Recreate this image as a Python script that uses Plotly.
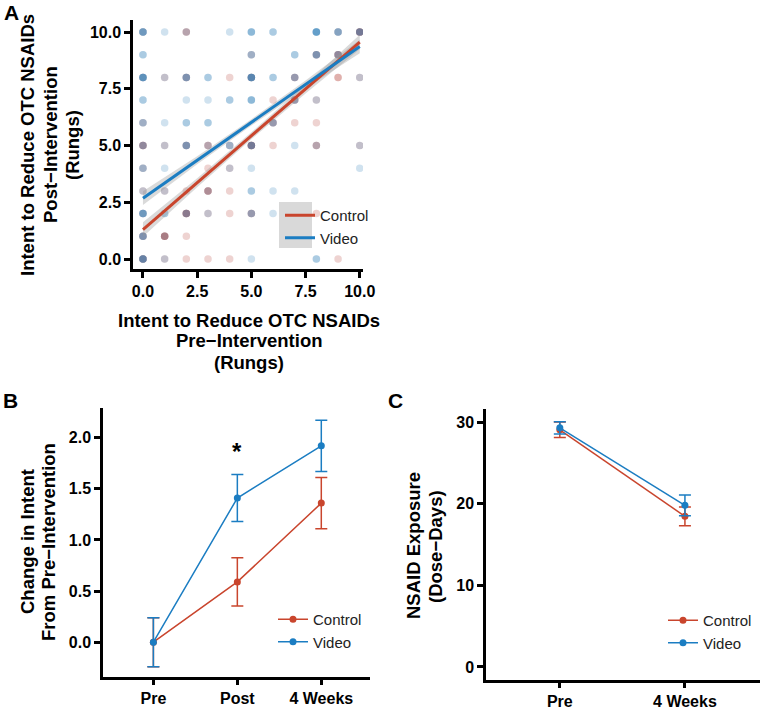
import plotly.graph_objects as go

# ---------------- data ----------------
# Panel A: grid cells (pre, post) with number of observations per group
cell_x = [0, 1, 2, 4, 5, 6, 8, 9, 10,
          0, 5, 7, 8, 9,
          0, 1, 2, 3, 4, 5, 6, 7, 9, 10,
          0, 2, 3, 4, 5, 6, 7, 8,
          0, 1, 2, 3, 6, 7, 8,
          0, 1, 2, 3, 4, 5, 6, 7, 8, 10,
          0, 1, 3, 4, 5, 10,
          0, 1, 2, 3, 4, 5, 6, 7,
          0, 1, 2, 3, 4, 5, 6, 7, 8,
          0, 1, 2,
          0, 1, 2, 3, 4, 5, 8, 9]
cell_y = [10] * 9 + [9] * 5 + [8] * 10 + [7] * 8 + [6] * 7 + [5] * 10 + [4] * 6 + [3] * 8 + [2] * 9 + [1] * 3 + [0] * 8
n_control = [1, 0, 2, 0, 0, 0, 0, 1, 4,
             0, 1, 0, 2, 3,
             1, 1, 2, 0, 1, 2, 0, 2, 2, 1,
             0, 0, 0, 0, 0, 1, 2, 1,
             1, 0, 0, 0, 2, 1, 1,
             3, 1, 2, 2, 1, 4, 1, 0, 2, 1,
             1, 0, 1, 1, 0, 0,
             1, 1, 1, 3, 1, 0, 0, 0,
             1, 0, 4, 1, 1, 2, 0, 1, 1,
             2, 4, 1,
             3, 1, 1, 1, 1, 0, 0, 1]
n_video = [4, 1, 1, 1, 3, 2, 5, 3, 3,
           2, 2, 2, 3, 2,
           5, 1, 3, 2, 0, 5, 2, 2, 0, 1,
           2, 1, 1, 2, 3, 0, 2, 1,
           2, 1, 2, 2, 2, 0, 0,
           2, 1, 3, 1, 2, 3, 0, 1, 1, 1,
           2, 1, 0, 1, 1, 1,
           1, 1, 0, 1, 0, 2, 1, 1,
           4, 2, 2, 1, 0, 2, 1, 0, 0,
           3, 1, 0,
           4, 1, 0, 0, 0, 1, 2, 0]

# Panel A: fitted regression lines and confidence half-widths
fit_x = [0, 2.5, 5, 7.5, 10]
control_fit = [1.30, 3.36, 5.43, 7.49, 9.56]
video_fit = [2.68, 4.35, 6.02, 7.69, 9.36]
control_ci = [0.32, 0.20, 0.15, 0.20, 0.32]
video_ci = [0.30, 0.18, 0.14, 0.18, 0.30]
a_ticks = [0, 2.5, 5, 7.5, 10]
a_ticktext = ["0.0", "2.5", "5.0", "7.5", "10.0"]

# Panel B: change in intent
b_labels = ["Pre", "Post", "4 Weeks"]
b_control = [0.0, 0.59, 1.36]
b_control_err = [0.24, 0.235, 0.25]
b_video = [0.0, 1.41, 1.92]
b_video_err = [0.24, 0.23, 0.25]
b_ticks = [0, 0.5, 1.0, 1.5, 2.0]
b_ticktext = ["0.0", "0.5", "1.0", "1.5", "2.0"]
b_star_y = 1.86

# Panel C: NSAID exposure
c_labels = ["Pre", "4 Weeks"]
c_control = [29.05, 18.45]
c_control_err = [0.95, 1.15]
c_video = [29.3, 19.8]
c_video_err = [0.75, 1.27]
c_ticks = [0, 10, 20, 30]

# ---------------- style ----------------
W, H = 764, 709
F = "Liberation Sans"
RED = "#C9452D"
BLUE = "#1B7DC2"
PT_RED = "#B02E28"
PT_BLUE = "#1F78B4"


def px(xp):
    return xp / W


def py(yp):
    return 1 - yp / H


fig = go.Figure()

# ---- Panel A scatter (stacked translucent dots) ----
for name, counts, col in [("Control", n_control, PT_RED), ("Video", n_video, PT_BLUE)]:
    xs, ys = [], []
    for x, y, n in zip(cell_x, cell_y, counts):
        xs += [x] * n
        ys += [y] * n
    fig.add_trace(go.Scatter(x=xs, y=ys, mode="markers", showlegend=False,
                             marker=dict(size=7.5, color=col, opacity=0.21, line=dict(width=0)),
                             xaxis="x", yaxis="y", hoverinfo="skip"))

# confidence bands
for fit, ci in [(control_fit, control_ci), (video_fit, video_ci)]:
    upper = [f + c for f, c in zip(fit, ci)]
    lower = [f - c for f, c in zip(fit, ci)]
    fig.add_trace(go.Scatter(x=fit_x + fit_x[::-1], y=upper + lower[::-1], fill="toself",
                             fillcolor="rgba(150,150,150,0.35)", line=dict(width=0),
                             mode="lines", showlegend=False, xaxis="x", yaxis="y", hoverinfo="skip"))

# fitted lines
fig.add_trace(go.Scatter(x=fit_x, y=control_fit, mode="lines", name="Control",
                         line=dict(color=RED, width=3), xaxis="x", yaxis="y", legend="legend"))
fig.add_trace(go.Scatter(x=fit_x, y=video_fit, mode="lines", name="Video",
                         line=dict(color=BLUE, width=3), xaxis="x", yaxis="y", legend="legend"))

# ---- Panel B ----
bx = list(range(len(b_labels)))
fig.add_trace(go.Scatter(x=bx, y=b_control, mode="lines+markers", name="Control",
                         line=dict(color=RED, width=1.5), marker=dict(size=7, color=RED),
                         error_y=dict(type="data", array=b_control_err, color=RED, thickness=1.5, width=6),
                         xaxis="x2", yaxis="y2", legend="legend2"))
fig.add_trace(go.Scatter(x=bx, y=b_video, mode="lines+markers", name="Video",
                         line=dict(color=BLUE, width=1.5), marker=dict(size=7, color=BLUE),
                         error_y=dict(type="data", array=b_video_err, color=BLUE, thickness=1.5, width=6),
                         xaxis="x2", yaxis="y2", legend="legend2"))

# ---- Panel C ----
cx = list(range(len(c_labels)))
fig.add_trace(go.Scatter(x=cx, y=c_control, mode="lines+markers", name="Control",
                         line=dict(color=RED, width=1.5), marker=dict(size=7, color=RED),
                         error_y=dict(type="data", array=c_control_err, color=RED, thickness=1.5, width=6),
                         xaxis="x3", yaxis="y3", legend="legend3"))
fig.add_trace(go.Scatter(x=cx, y=c_video, mode="lines+markers", name="Video",
                         line=dict(color=BLUE, width=1.5), marker=dict(size=7, color=BLUE),
                         error_y=dict(type="data", array=c_video_err, color=BLUE, thickness=1.5, width=6),
                         xaxis="x3", yaxis="y3", legend="legend3"))

ax = dict(showline=True, linecolor="black", linewidth=2.5, ticks="outside", ticklen=6,
          tickwidth=2.5, tickcolor="black", showgrid=False, zeroline=False,
          tickfont=dict(family=F, size=16, color="black", weight="bold"), fixedrange=True,
          automargin=False)

leg = dict(xanchor="left", yanchor="top", bgcolor="rgba(0,0,0,0)",
           font=dict(family=F, size=15, color="#222"), itemwidth=30, tracegroupgap=0)

fig.update_layout(
    width=W, height=H, margin=dict(l=0, r=0, t=0, b=0),
    template="none", paper_bgcolor="white", plot_bgcolor="white",
    showlegend=True,
    xaxis=dict(ax, domain=[px(133), px(363)], range=[-0.46, 10.15], anchor="y",
               tickvals=a_ticks, ticktext=a_ticktext),
    yaxis=dict(ax, domain=[py(269), py(20)], range=[-0.44, 10.53], anchor="x",
               tickvals=a_ticks, ticktext=a_ticktext),
    xaxis2=dict(ax, domain=[px(103), px(370)], range=[-0.6, 2.58], anchor="y2",
                tickvals=bx, ticktext=b_labels, ticklen=5),
    yaxis2=dict(ax, domain=[py(677), py(408)], range=[-0.34, 2.29], anchor="x2",
                tickvals=b_ticks, ticktext=b_ticktext),
    xaxis3=dict(ax, domain=[px(486), px(760)], range=[-0.59, 1.6], anchor="y3",
                tickvals=cx, ticktext=c_labels, ticklen=5),
    yaxis3=dict(ax, domain=[py(680), py(409)], range=[-1.6, 31.6], anchor="x3",
                tickvals=c_ticks),
    legend=dict(leg, x=px(280), y=py(199)),
    legend2=dict(leg, x=px(273), y=py(603)),
    legend3=dict(leg, x=px(663), y=py(604)),
)

# grey key background of panel A legend
fig.add_shape(type="rect", xref="paper", yref="paper", x0=px(279), x1=px(312), y0=py(248), y1=py(202),
              fillcolor="#d9d9d9", line=dict(width=0), layer="above")

title_font = dict(family=F, size=18.5, color="black", weight="bold")
# axis titles, one annotation per line (tight line spacing as in the reference)
title_lines = [
    ("Intent to Reduce OTC NSAIDs", 27, 145, -90),
    ("Post\u2212Intervention", 50, 145, -90),
    ("(Rungs)", 72, 145, -90),
    ("Intent to Reduce OTC NSAIDs", 249, 320, 0),
    ("Pre\u2212Intervention", 249, 341, 0),
    ("(Rungs)", 249, 362, 0),
    ("Change in Intent", 27, 542, -90),
    ("From Pre\u2212Intervention", 48, 542, -90),
    ("NSAID Exposure", 413, 546, -90),
    ("(Dose\u2212Days)", 435, 546, -90),
]
for txt, xp, yp, ang in title_lines:
    fig.add_annotation(text=txt, xref="paper", yref="paper", x=px(xp), y=py(yp), showarrow=False,
                       font=title_font, xanchor="center", yanchor="middle", textangle=ang)

for lab, xp, yp in [("A", 11, 13), ("B", 10, 400), ("C", 395, 400)]:
    fig.add_annotation(text=lab, xref="paper", yref="paper", x=px(xp), y=py(yp), showarrow=False,
                       xanchor="center", yanchor="middle",
                       font=dict(family=F, size=21, color="black", weight="bold"))

fig.add_annotation(text="*", x=1, y=b_star_y, xref="x2", yref="y2", showarrow=False,
                   font=dict(family=F, size=24, color="black", weight="bold"))

fig.write_html("out.html")
